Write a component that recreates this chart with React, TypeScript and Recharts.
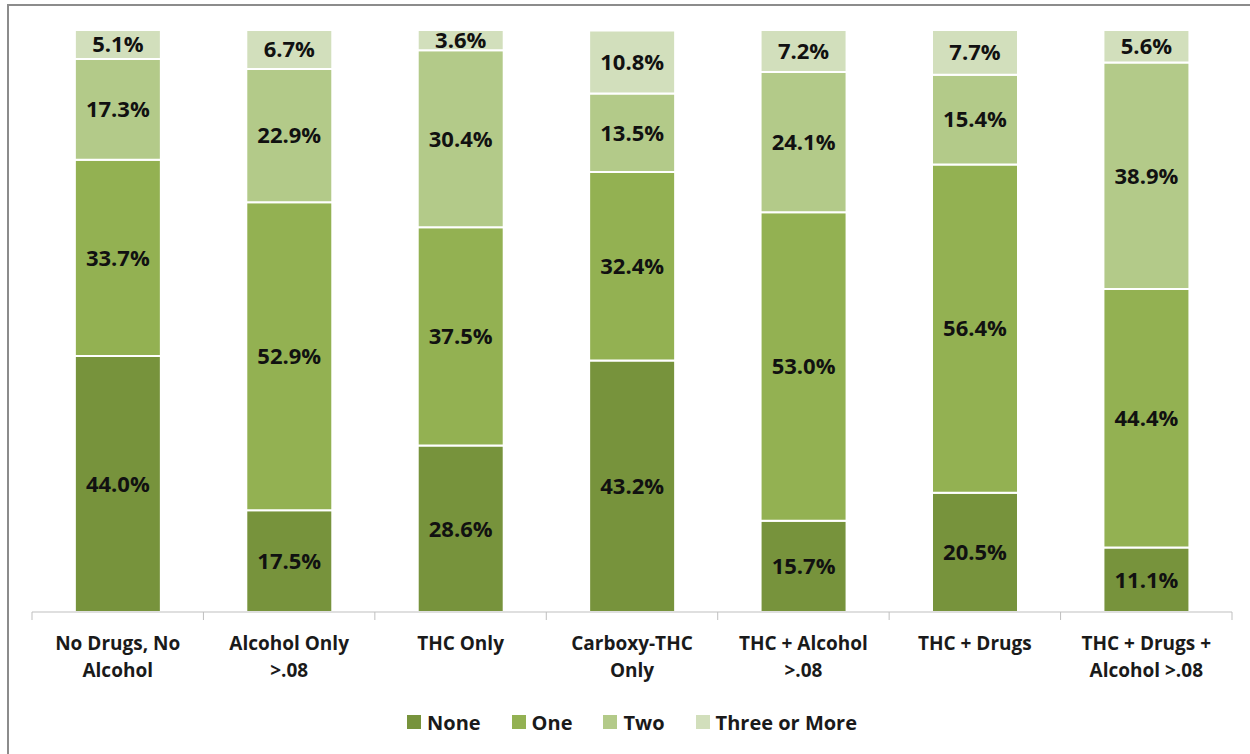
import React from 'react';
import { BarChart, Bar, XAxis, YAxis, LabelList } from 'recharts';

const CATEGORIES = [
  'No Drugs, No\nAlcohol',
  'Alcohol Only\n>.08',
  'THC Only',
  'Carboxy-THC\nOnly',
  'THC + Alcohol\n>.08',
  'THC + Drugs',
  'THC + Drugs +\nAlcohol >.08',
];
const NONE = [44.0, 17.5, 28.6, 43.2, 15.7, 20.5, 11.1];
const ONE = [33.7, 52.9, 37.5, 32.4, 53.0, 56.4, 44.4];
const TWO = [17.3, 22.9, 30.4, 13.5, 24.1, 15.4, 38.9];
const THREE = [5.1, 6.7, 3.6, 10.8, 7.2, 7.7, 5.6];

const SERIES = [
  { key: 'none', label: 'None', color: '#77933c' },
  { key: 'one', label: 'One', color: '#93b152' },
  { key: 'two', label: 'Two', color: '#b3ca89' },
  { key: 'three', label: 'Three or More', color: '#d2dfbc' },
];

const data = CATEGORIES.map((name, i) => ({
  name,
  none: NONE[i],
  one: ONE[i],
  two: TWO[i],
  three: THREE[i],
}));

const FONT = '"Open Sans", Lato, sans-serif';

// category label plus boundary tick marks
function CategoryTick(props: any) {
  const { x, y, payload, index } = props;
  const band = 1200 / CATEGORIES.length;
  const lines = String(payload.value).split('\n');
  return (
    <g>
      <line x1={x - band / 2} y1={y - 8} x2={x - band / 2} y2={y} stroke="#bfbfbf" />
      {index === CATEGORIES.length - 1 && (
        <line x1={x + band / 2} y1={y - 8} x2={x + band / 2} y2={y} stroke="#bfbfbf" />
      )}
      <text
        x={x}
        y={y}
        textAnchor="middle"
        fill="#1a1a1a"
        fontFamily={FONT}
        fontWeight={700}
        fontSize={19}
      >
        {lines.map((l, k) => (
          <tspan key={k} x={x} dy={k === 0 ? 30 : 27}>
            {l}
          </tspan>
        ))}
      </text>
    </g>
  );
}

export default function App() {
  return (
    <div
      style={{
        position: 'absolute',
        left: 0,
        top: 0,
        width: 1250,
        height: 754,
        background: '#fff',
        overflow: 'hidden',
      }}
    >
      <div
        style={{
          position: 'absolute',
          left: 7,
          top: 4,
          width: 1300,
          height: 800,
          border: '2px solid #8c8c8c',
        }}
      />
      <div style={{ position: 'absolute', left: 0, top: 0 }}>
        <BarChart
          width={1250}
          height={754}
          data={data}
          margin={{ top: 30, right: 18, left: 32, bottom: 0 }}
          barCategoryGap="25%"
        >
          <YAxis hide domain={[0, 100]} allowDataOverflow />
          <XAxis
            dataKey="name"
            axisLine={{ stroke: '#bfbfbf' }}
            tickLine={false}
            interval={0}
            height={142}
            tick={<CategoryTick />}
          />
          {SERIES.map((s) => (
            <Bar
              key={s.key}
              dataKey={s.key}
              stackId="a"
              fill={s.color}
              stroke="#ffffff"
              strokeWidth={2}
              isAnimationActive={false}
            >
              <LabelList
                dataKey={s.key}
                position="center"
                formatter={(v: any) => `${Number(v).toFixed(1)}%`}
                fill="#111"
                fontFamily={FONT}
                fontWeight={700}
                fontSize={22}
              />
            </Bar>
          ))}
        </BarChart>
      </div>
      {/* legend */}
      <div
        style={{
          position: 'absolute',
          left: 32,
          width: 1200,
          top: 705,
          height: 34,
          display: 'flex',
          justifyContent: 'center',
          alignItems: 'center',
          gap: 31,
          fontFamily: FONT,
          fontWeight: 700,
          fontSize: 20,
          color: '#1a1a1a',
        }}
      >
        {SERIES.map((s) => (
          <div key={s.key} style={{ display: 'flex', alignItems: 'center', gap: 6 }}>
            <span style={{ width: 14, height: 14, background: s.color, display: 'inline-block' }} />
            <span>{s.label}</span>
          </div>
        ))}
      </div>
    </div>
  );
}
